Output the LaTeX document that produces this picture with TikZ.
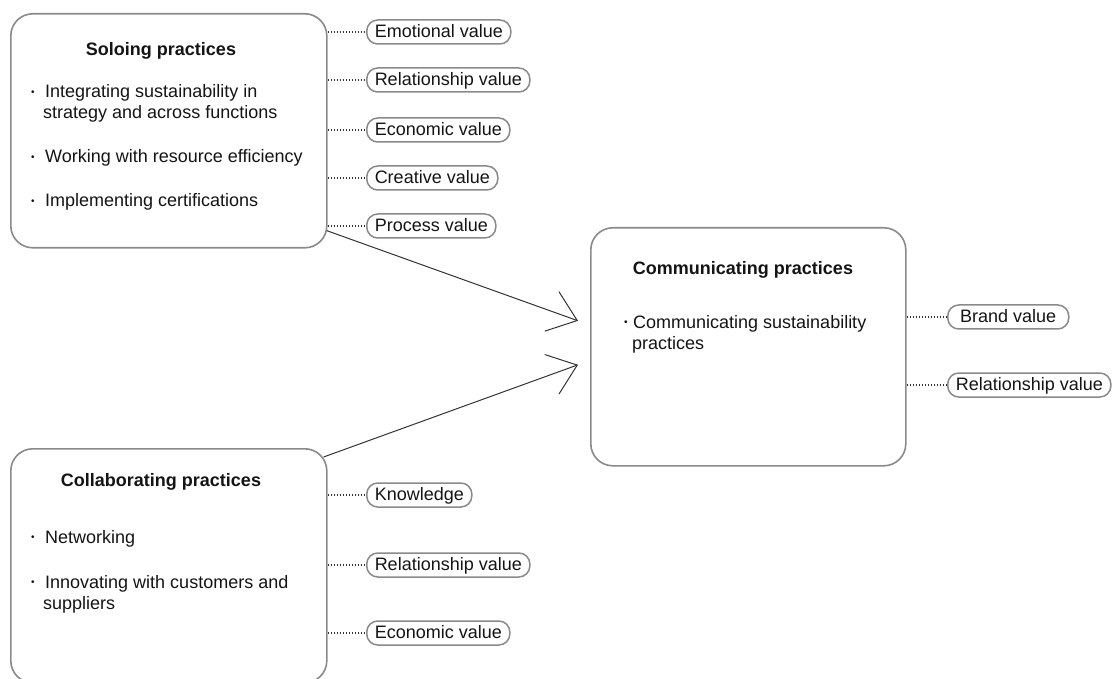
\documentclass[tikz,border=0pt]{standalone}
\usepackage{fontspec}
\setmainfont{Liberation Sans}
\usetikzlibrary{arrows.meta,calc}

\definecolor{edgegray}{HTML}{8A8A8A}
\definecolor{inkgray}{HTML}{333333}
\definecolor{txt}{HTML}{141414}

\newcommand{\bul}{\raisebox{2.4pt}{\fontsize{10}{10}\selectfont •}}

\tikzset{
  practicebox/.style={draw=edgegray, line width=1.6pt, rounded corners=22pt,
    rectangle, anchor=north west, inner sep=0pt},
  valuepill/.style={draw=edgegray, line width=1.5pt, rounded corners=11pt,
    rectangle, anchor=west, minimum height=24pt, inner xsep=8pt, inner ysep=0pt,
    text height=13pt, text depth=2pt, font=\fontsize{18}{21}\selectfont, text=txt},
  boxtitle/.style={anchor=base, font=\bfseries\fontsize{18}{21}\selectfont, text=txt, inner sep=0pt},
  boxline/.style={anchor=base west, font=\fontsize{18}{21}\selectfont, text=txt, inner sep=0pt},
  dotline/.style={draw=inkgray, line width=1.3pt, dash pattern=on 1.4pt off 1.6pt},
  conn/.style={draw=inkgray, line width=1pt,
    -{Straight Barb[length=27pt, width=42pt, line width=1pt]}},
}

\begin{document}
\begin{tikzpicture}[x=1pt, y=-1pt]
\useasboundingbox (0,0) rectangle (1112,679);

% ---------- Soloing practices ----------
\node[practicebox, minimum width=316pt, minimum height=234pt] (solo) at (10,13) {};
\node[boxtitle] (soloT) at (161,56) {Soloing practices};
\node[boxline] (soloB1) at (31,98) {\bul};
\node[boxline] (soloL1) at (45,98) {Integrating sustainability in};
\node[boxline] (soloL1b) at (43,119) {strategy and across functions};
\node[boxline] (soloB2) at (31,163) {\bul};
\node[boxline] (soloL2) at (45,163) {Working with resource efficiency};
\node[boxline] (soloB3) at (31,207) {\bul};
\node[boxline] (soloL3) at (45,207) {Implementing certifications};

\node[valuepill] (sv1) at (366,32) {Emotional value};
\node[valuepill] (sv2) at (366,80) {Relationship value};
\node[valuepill] (sv3) at (366,130) {Economic value};
\node[valuepill] (sv4) at (366,178) {Creative value};
\node[valuepill] (sv5) at (366,226) {Process value};
\foreach \p in {sv1,sv2,sv3,sv4,sv5}
  \draw[dotline] (solo.east |- \p.west) -- (\p.west);

% ---------- Communicating practices ----------
\node[practicebox, minimum width=315pt, minimum height=238pt] (comm) at (590,227) {};
\node[boxtitle] (commT) at (743,275) {Communicating practices};
\node[boxline] (commB1) at (624,328) {\bul};
\node[boxline] (commL1) at (633,328) {Communicating sustainability};
\node[boxline] (commL1b) at (632,349) {practices};

\node[valuepill, minimum width=121pt, align=left] (cv1) at (947,317) {Brand value\hfill};
\node[valuepill] (cv2) at (947,385) {Relationship value};
\foreach \p in {cv1,cv2}
  \draw[dotline] (comm.east |- \p.west) -- (\p.west);

% ---------- Collaborating practices ----------
\node[practicebox, minimum width=316pt, minimum height=234pt] (coll) at (10,448) {};
\node[boxtitle] (collT) at (161,486) {Collaborating practices};
\node[boxline] (collB1) at (31,543) {\bul};
\node[boxline] (collL1) at (45,543) {Networking};
\node[boxline] (collB2) at (31,588) {\bul};
\node[boxline] (collL2) at (45,588) {Innovating with customers and};
\node[boxline] (collL2b) at (43,609) {suppliers};

\node[valuepill] (kv1) at (366,495) {Knowledge};
\node[valuepill] (kv2) at (366,565) {Relationship value};
\node[valuepill] (kv3) at (366,633) {Economic value};
\foreach \p in {kv1,kv2,kv3}
  \draw[dotline] (coll.east |- \p.west) -- (\p.west);

% ---------- flows into communicating ----------
\coordinate (tipA) at ($(comm.west)+(-12,-26)$);
\coordinate (tipB) at ($(comm.west)+(-12,18)$);
\draw[conn] ($(solo.south east)+(-1,-18)$) -- (tipA);
\draw[conn] ($(coll.north east)+(-4,9)$) -- (tipB);
\end{tikzpicture}
\end{document}
